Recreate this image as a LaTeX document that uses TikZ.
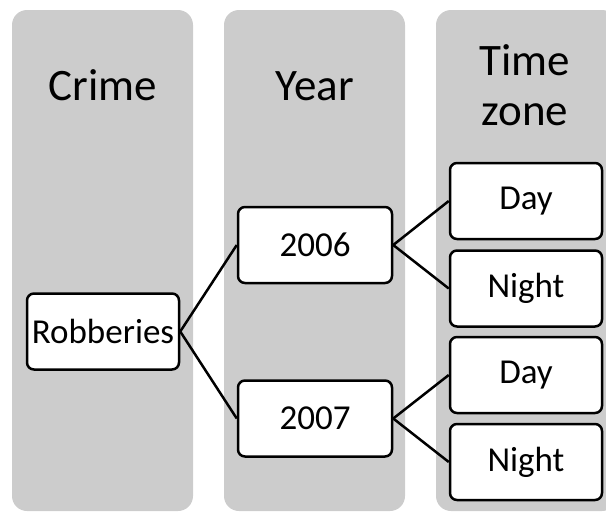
\documentclass[tikz,border=0pt]{standalone}
\usepackage{fontspec}
\setmainfont{Carlito}

\tikzset{
  column/.style={fill=colgrey,rounded corners=15pt},
  header/.style={font=\fontsize{45}{50}\selectfont,align=center,anchor=base},
  item/.style={draw=black,fill=white,line width=2.5pt,rounded corners=7pt,
    rectangle,minimum width=152pt,minimum height=76pt,inner sep=0pt,
    font=\fontsize{35}{40}\selectfont},
  link/.style={line width=2.5pt}
}
\definecolor{colgrey}{RGB}{204,204,204}

\begin{document}
\begin{tikzpicture}[x=1pt,y=-1pt]
\useasboundingbox (0,0) rectangle (606,512);
\clip (0,0) rectangle (606,512);
%% columns
  \fill [column] (12,10) rectangle (193,511);
  \fill [column] (224,10) rectangle (405,511);
  \fill [column] (436,10) rectangle (617,511);
  \node [header] (hcrime) at (102.5,100) {Crime};
  \node [header] (hyear) at (314.5,100) {Year};
  \node [header] (htime) at (525,125) {Time\\zone};
%% boxes
  \node [item] (rob) at (103,331.5) {Robberies};
  \node [item,minimum width=154pt] (y2006) at (315,245) {2006};
  \node [item,minimum width=154pt] (y2007) at (315,418.5) {2007};
  \node [item] (day06) at (526,201) {Day};
  \node [item] (night06) at (526,288.5) {Night};
  \node [item] (day07) at (526,375) {Day};
  \node [item] (night07) at (526,462) {Night};
%% links
  \draw [link] (rob.east) -- (y2006.west);
  \draw [link] (rob.east) -- (y2007.west);
  \draw [link] (y2006.east) -- (day06.west);
  \draw [link] (y2006.east) -- (night06.west);
  \draw [link] (y2007.east) -- (day07.west);
  \draw [link] (y2007.east) -- (night07.west);
%
\end{tikzpicture}
\end{document}
